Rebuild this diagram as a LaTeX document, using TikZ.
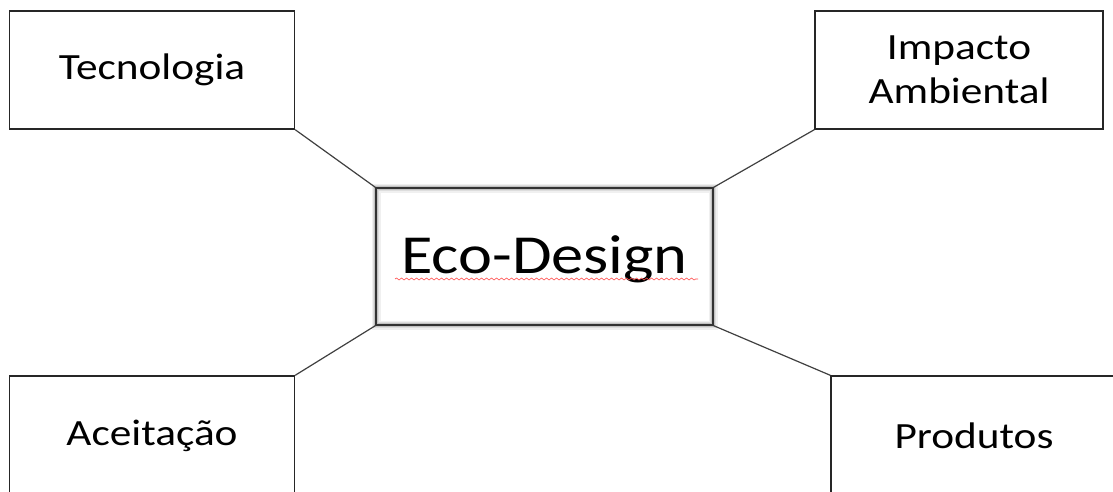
\documentclass[tikz,border=0pt]{standalone}
\usepackage{fontspec}
\setmainfont{Carlito}[FakeStretch=1.17]
\usetikzlibrary{decorations.pathmorphing}
\tikzset{
  box/.style={draw=black!85, line width=1.4pt, fill=white, inner sep=0pt, align=center,
    font=\fontsize{37}{43.5}\selectfont},
  link/.style={draw=black!75, line width=1.2pt},
}
\begin{document}
\begin{tikzpicture}[x=1pt,y=-1pt]
\useasboundingbox (0,0) rectangle (1113,492);
\clip (0,0) rectangle (1113,492);
\fill[white] (0,0) rectangle (1113,492);
% outer boxes
\node[box, minimum width=285pt, minimum height=118pt] (tec) at (152,70) {Tecnologia};
\node[box, minimum width=288pt, minimum height=118pt] (imp) at (959,70) {Impacto\\Ambiental};
\node[box, minimum width=285pt, minimum height=120pt] (ace) at (152,436) {\raisebox{-2.5pt}{Aceitação}};
\node[box, minimum width=286pt, minimum height=120pt] (pro) at (974,436) {Produtos};
% glow of central box
\foreach \w/\o in {9/0.06,6/0.08,3.5/0.12}{
  \draw[black, line width=\w pt, opacity=\o] (376,188) rectangle (713,325);
}
% central box
\node[box, draw=black!80, minimum width=337pt, minimum height=137pt, fill=none,
  font=\fontsize{55}{60}\selectfont] (eco) at (544.5,256.5) {};
\node[font=\fontsize{55}{60}\selectfont, text=black] (ecot) at ([yshift=-3pt]eco.center) {Eco-Design};
\draw[red!70, line width=0.6pt, decorate, decoration={snake, amplitude=1pt, segment length=5pt}]
  (395,279) -- (698,279);
% connectors
\draw[link] (tec.south east) -- (eco.north west);
\draw[link] (imp.south west) -- (eco.north east);
\draw[link] (eco.south west) -- (ace.north east);
\draw[link] (eco.south east) -- (pro.north west);
\end{tikzpicture}
\end{document}
